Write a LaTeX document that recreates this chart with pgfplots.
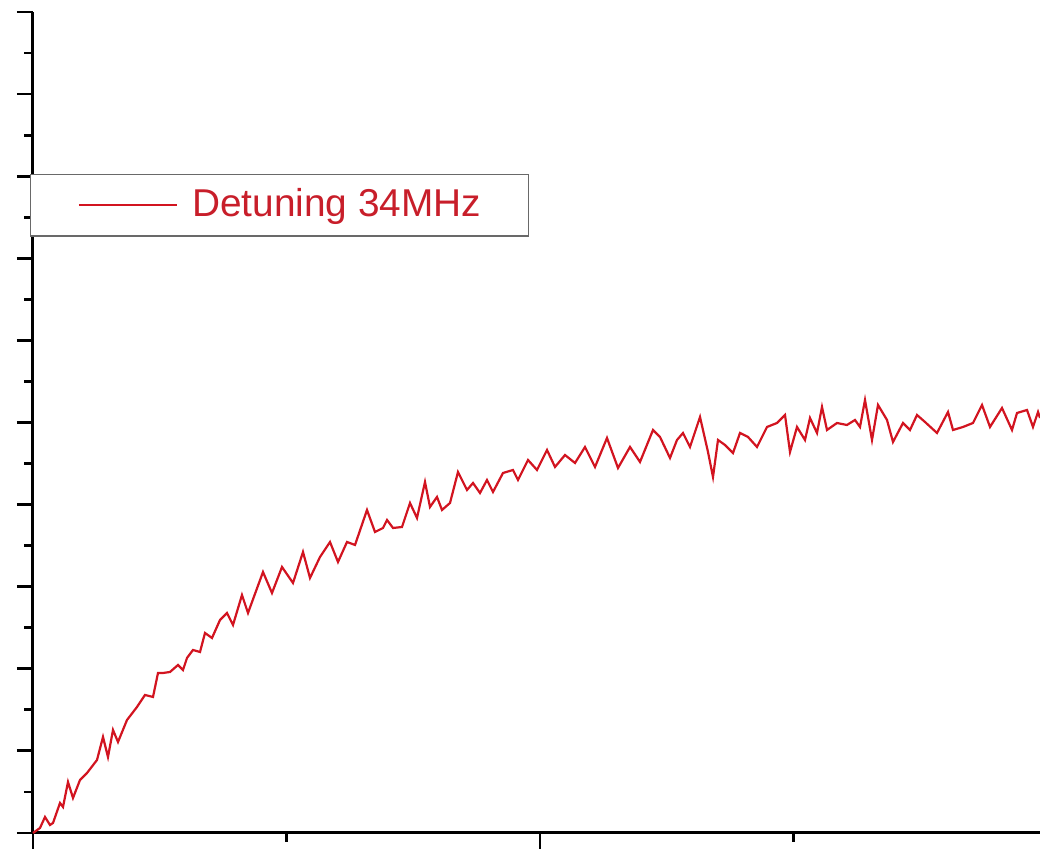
\documentclass[border=0pt]{standalone}
\usepackage{fontspec}
\setmainfont{Liberation Sans}
\usepackage{pgfplots}
\pgfplotsset{compat=1.18}
\definecolor{curvered}{RGB}{210,20,32}
\definecolor{legred}{RGB}{200,30,42}
\definecolor{legframe}{RGB}{105,105,105}
\begin{document}
\begin{tikzpicture}
\useasboundingbox (0,0) rectangle (260pt,213.25pt);
\begin{axis}[
  at={(8.25pt,5pt)}, anchor=south west,
  scale only axis, width=251.75pt, height=205.25pt,
  xmin=0, xmax=1007, ymin=0, ymax=821,
  axis lines=left, axis line style={-, line width=0.75pt, black},
  xtick={0,507,1014}, minor x tick num=1,
  ytick={0,82.1,164.2,246.3,328.4,410.5,492.6,574.7,656.8,738.9,821},
  minor y tick num=1,
  xticklabels={}, yticklabels={},
  tick align=outside,
  major tick length=4pt, minor tick length=2.2pt,
  every tick/.style={black, line width=0.7pt},
  clip=false,
  legend style={at={(-0.003,0.8027)}, anchor=north west,
    draw=legframe, line width=0.35pt, fill=white,
    inner xsep=11.8pt, inner ysep=1.4pt,
    font=\fontsize{9.7pt}{11pt}\selectfont, text=legred,
    nodes={inner xsep=0pt, inner ysep=2pt}, column sep=3.5pt},
  legend image code/.code={\draw[#1] (0pt,0pt) -- (24.5pt,0pt);},
]
\addplot[curvered, line width=0.55pt] coordinates {
(0,0) (7,5) (12,16) (17,8) (20,10) (27,30) (30,26) (35,51) (40,35) (47,53)
(54,60) (64,73) (70,96) (75,76) (80,103) (85,91) (94,113) (104,126) (112,138) (120,136)
(125,160) (130,160) (137,161) (145,168) (150,163) (154,175) (160,183) (167,181) (172,200) (179,195)
(187,213) (194,220) (200,208) (209,238) (215,220) (230,261) (239,240) (249,266) (260,250) (270,281)
(277,255) (287,276) (297,291) (305,271) (314,291) (322,288) (334,323) (342,301) (350,305) (354,313)
(360,305) (369,306) (377,330) (384,315) (392,351) (397,326) (404,336) (409,323) (417,330) (425,361)
(434,343) (440,350) (447,340) (454,353) (460,341) (470,360) (480,363) (485,353) (495,373) (504,363)
(514,383) (522,366) (532,378) (542,370) (552,386) (562,366) (574,395) (585,365) (597,386) (607,371)
(620,403) (627,396) (637,375) (644,393) (650,400) (657,386) (667,416) (675,381) (680,356) (685,393)
(692,388) (700,380) (707,400) (715,396) (724,386) (734,406) (744,410) (752,418) (757,381) (764,406)
(772,393) (777,415) (784,400) (789,426) (794,403) (804,410) (814,408) (822,413) (827,406) (832,433)
(839,393) (845,428) (854,413) (860,391) (870,410) (877,403) (884,418) (892,411) (904,400) (915,421)
(920,403) (930,406) (940,410) (949,428) (957,406) (969,425) (979,403) (984,420) (994,423) (1000,406)
(1005,421) (1007,415)
};
\addlegendentry{Detuning 34MHz}
\end{axis}
\end{tikzpicture}
\end{document}
